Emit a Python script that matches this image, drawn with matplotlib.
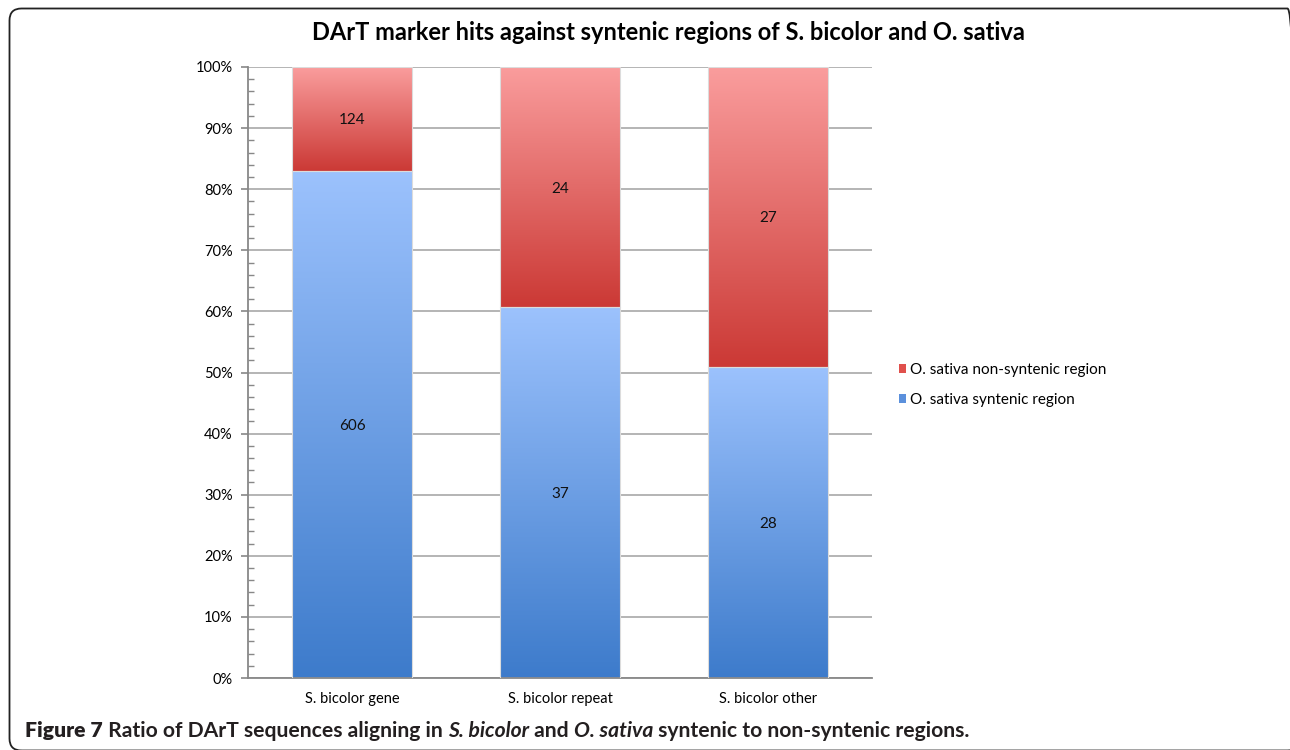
import numpy as np
import matplotlib
matplotlib.use("Agg")
import matplotlib.pyplot as plt
from matplotlib.colors import LinearSegmentedColormap
from matplotlib.patches import FancyBboxPatch, Rectangle
from matplotlib.transforms import IdentityTransform
from matplotlib.ticker import MultipleLocator, PercentFormatter

# ---- data ----
categories = ["S. bicolor gene", "S. bicolor repeat", "S. bicolor other"]
syntenic = [606, 37, 28]
non_syntenic = [124, 24, 27]
series_labels = ["O. sativa syntenic region", "O. sativa non-syntenic region"]
title = "DArT marker hits against syntenic regions of S. bicolor and O. sativa"

plt.rcParams["font.family"] = ["Lato", "DejaVu Sans"]

W, H = 1290, 750
fig = plt.figure(figsize=(W / 100, H / 100), dpi=100)
ax = fig.add_axes([248 / W, 1 - 678 / H, (872 - 248) / W, (678 - 67) / H])

syn = np.array(syntenic, dtype=float)
non = np.array(non_syntenic, dtype=float)
tot = syn + non
syn_pct = syn / tot * 100
non_pct = non / tot * 100

x = np.arange(len(categories))
width = 0.577

blue_cmap = LinearSegmentedColormap.from_list("blue_grad", ["#3d7bcb", "#9cc2fd"])
red_cmap = LinearSegmentedColormap.from_list("red_grad", ["#cb3935", "#fa9d9d"])
grad = np.linspace(0, 1, 256).reshape(-1, 1)


def gradient_bar(xc, bottom, height, cmap):
    x0 = xc - width / 2
    im = ax.imshow(grad, cmap=cmap, origin="lower", aspect="auto",
                   extent=(x0, x0 + width, bottom, bottom + height), zorder=2,
                   interpolation="bilinear")
    clip = Rectangle((x0, bottom), width, height, transform=ax.transData)
    im.set_clip_path(clip)
    ax.add_patch(Rectangle((x0, bottom), width, height, facecolor="none",
                           edgecolor="#dcdcdc", linewidth=0.8, zorder=3))


for i in range(len(categories)):
    gradient_bar(x[i], 0, syn_pct[i], blue_cmap)
    gradient_bar(x[i], syn_pct[i], non_pct[i], red_cmap)
    ax.text(x[i], syn_pct[i] / 2, f"{syntenic[i]}", ha="center",
            va="center_baseline", fontsize=11, color="#111111", zorder=4)
    ax.text(x[i], syn_pct[i] + non_pct[i] / 2, f"{non_syntenic[i]}",
            ha="center", va="center_baseline", fontsize=11, color="#111111",
            zorder=4)

ax.set_xlim(-0.5, len(categories) - 0.5)
ax.set_ylim(0, 100)
ax.set_xticks(x)
ax.set_xticklabels(categories, fontsize=10.5)
ax.tick_params(axis="x", length=0, pad=10)

ax.yaxis.set_major_locator(MultipleLocator(10))
ax.yaxis.set_minor_locator(MultipleLocator(2))
ax.yaxis.set_major_formatter(PercentFormatter(decimals=0))
ax.tick_params(axis="y", which="major", length=5, width=1.2, color="#888888",
               labelsize=10.5, pad=6, direction="out")
ax.tick_params(axis="y", which="minor", length=4, width=1.0, color="#888888",
               direction="in")

ax.grid(axis="y", which="major", color="#a0a0a0", linewidth=1.1, zorder=0)
ax.set_axisbelow(True)
for s in ("top", "right"):
    ax.spines[s].set_visible(False)
for s in ("left", "bottom"):
    ax.spines[s].set_color("#888888")
    ax.spines[s].set_linewidth(1.3)

# legend (non-syntenic listed first)
handles = [Rectangle((0, 0), 1, 1, facecolor="#e0504c"),
           Rectangle((0, 0), 1, 1, facecolor="#5b90dc")]
fig.legend(handles, [series_labels[1], series_labels[0]],
           loc="center left", bbox_to_anchor=(885 / W, 1 - 385 / H),
           frameon=False, fontsize=11, handlelength=0.5,
           handleheight=0.5, handletextpad=0.25, labelspacing=1.05)

# chart title
fig.text(668 / W, 1 - 33 / H, title, ha="center", va="center",
         fontsize=17, fontweight="bold")

# rounded frame around the chart panel
frame = FancyBboxPatch((9.5, -0.5), W, H - 8,
                       boxstyle="round,pad=0,rounding_size=12",
                       transform=IdentityTransform(), facecolor="none",
                       edgecolor="#222222", linewidth=1.3)
fig.add_artist(frame)

# caption, assembled from styled pieces placed left to right
pieces = [("Figure 7", "normal", "heavy"),
          (" Ratio of DArT sequences aligning in ", "normal", "bold"),
          ("S. bicolor", "italic", "bold"),
          (" and ", "normal", "bold"),
          ("O. sativa", "italic", "bold"),
          (" syntenic to non-syntenic regions.", "normal", "bold")]
caption_texts = []
for txt, style, weight in pieces:
    caption_texts.append(fig.text(0, 1 - 737 / H, txt, fontsize=15.2,
                                  fontstyle=style, fontweight=weight,
                                  color="#231f20", va="baseline", ha="left"))

fig.canvas.draw()
renderer = fig.canvas.get_renderer()
x_pix = 25
for t in caption_texts:
    t.set_x(x_pix / W)
    x_pix += t.get_window_extent(renderer).width

fig.savefig("out.png", dpi=100)
